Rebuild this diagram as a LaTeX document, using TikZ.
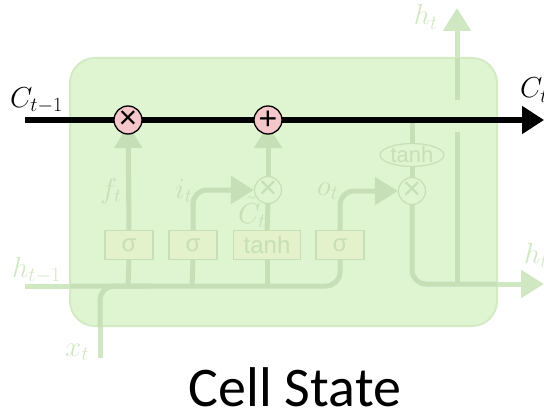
\documentclass[tikz,border=0pt]{standalone}
\usepackage{fontspec}
\newfontfamily\calib{Carlito}
\newfontfamily\gatefont{Liberation Sans}
\usetikzlibrary{arrows.meta,shapes.geometric}
\newcommand\biglab[1]{\scalebox{1.16}{$#1$}}
\definecolor{boxfill}{HTML}{DFF5D2}
\definecolor{boxline}{HTML}{D2EBC3}
\definecolor{faint}{HTML}{C6DFB6}
\definecolor{faintout}{HTML}{D0E8C2}
\definecolor{gatefill}{HTML}{E3F2CB}
\definecolor{opfill}{HTML}{F5C6CA}
\begin{document}
\begin{tikzpicture}[x=1pt,y=-1pt,
  fline/.style={draw=faint,line width=5pt},
  oline/.style={draw=faintout,line width=5pt},
  farrow/.style={-{Triangle[length=23pt,width=27pt]}},
  gatebox/.style={draw=faint,line width=1.2pt,fill=gatefill,minimum width=48pt,minimum height=29pt,inner sep=0pt,font=\gatefont\fontsize{24}{26}\selectfont,text=faint},
  fop/.style={circle,draw=faint,line width=1.2pt,fill=boxfill,minimum size=27pt,inner sep=0pt,font=\gatefont\fontsize{32}{34}\selectfont,text=faint},
  op/.style={circle,draw=black,line width=1.3pt,fill=opfill,minimum size=28pt,inner sep=0pt,font=\gatefont\fontsize{32}{34}\selectfont},
  mlab/.style={font=\fontsize{26}{30}\selectfont,inner sep=0pt,anchor=base west},
  flab/.style={mlab,text=faint}]
\useasboundingbox (0,0) rectangle (544,412);
% cell box
\node[draw=boxline,line width=2pt,fill=boxfill,rounded corners=25pt,minimum width=427pt,minimum height=268pt,inner sep=0pt] (cell) at (283.5,192) {};
% coordinates
\coordinate (hin) at (25,286);
\coordinate (xin) at (100,358);
\coordinate (hjoin) at (150,286);
\coordinate (cin) at (25,120);
\coordinate (cout) at (544,120);
\coordinate (tapc) at (412,120);
\coordinate (hout) at (544,284);
\coordinate (hbr) at (457,284);
\coordinate (hgapb) at (457,132);
\coordinate (hgapt) at (457,100);
\coordinate (htop) at (457,8);
\coordinate (fj) at (128,286);
\coordinate (ij) at (192,286);
\coordinate (tj) at (267,286);
% gates
\node[gatebox] (sf) at (129,245) {σ};
\node[gatebox] (si) at (193,245) {σ};
\node[gatebox,minimum width=67pt] (tg) at (267,245) {tanh};
\node[gatebox] (so) at (340,245) {σ};
\node[fop] (mi) at (268,190) {×};
\node[fop] (mo) at (412,191) {×};
\node[ellipse,draw=faint,line width=1.2pt,fill=boxfill,minimum width=64pt,minimum height=21pt,inner sep=0pt,font=\gatefont\fontsize{22}{24}\selectfont,text=faint] (te) at (412,155) {tanh};
% input lines
\draw[oline] (hin) -- (70,286);
\draw[fline,rounded corners=14pt] (70,286) -| (so.south);
\draw[oline] (xin) -- (100,326);
\draw[fline,rounded corners=14pt] (100,327) |- (hjoin);
\draw[fline] (fj) -- (sf.south);
\draw[fline] (ij) -- (si.south);
\draw[fline] (tj) -- (tg.south);
% gate outputs
\draw[fline,farrow,shorten >=5pt] (sf.north) -- (128,120);
\draw[fline,farrow,rounded corners=14pt] (si.north) |- (mi.west);
\draw[fline] (tg.north) -- (mi.south);
\draw[fline,farrow,shorten >=5pt] (mi.north) -- (268,120);
\draw[fline,farrow,rounded corners=14pt] (so.north) |- (mo.west);
\draw[fline] (tapc) -- (te.north);
\draw[fline] (te.south) -- (mo.north);
\draw[fline,rounded corners=14pt] (mo.south) |- (497,284);
\draw[oline,farrow] (497,284) -- (hout);
\draw[fline] (hbr) -- (hgapb);
\draw[fline] (hgapt) -- (457,58);
\draw[oline,farrow] (457,58) -- (htop);
% cell state line
\draw[black,line width=5pt,-{Triangle[length=22pt,width=27pt]}] (cin) -- (cout);
\node[op] (mf) at (128,120) {×};
\node[op] (pl) at (268,120) {+};
% labels
\node[mlab] (lc0) at (10,107) {\biglab{C_{t-1}}};
\node[mlab] (lc1) at (520,98) {\biglab{C_t}};
\node[flab,text=faintout,anchor=base east] (lht) at (438,25) {\biglab{h_t}};
\node[flab,text=faintout] (lh0) at (12,277) {\biglab{h_{t-1}}};
\node[flab,text=faintout] (lhr) at (524,263) {\biglab{h_t}};
\node[flab,text=faintout] (lx) at (65,356) {\biglab{x_t}};
\node[flab] (lf) at (100,198) {\biglab{f_t}};
\node[flab] (li) at (175,198) {\biglab{i_t}};
\node[flab] (lct) at (238,223) {\biglab{\tilde{C}_t}};
\node[flab] (lo) at (317,195) {\biglab{o_t}};
% title
\node[font=\calib\fontsize{56}{60}\selectfont,inner sep=0pt,anchor=base] (title) at (295,406) {Cell State};
\end{tikzpicture}
\end{document}
